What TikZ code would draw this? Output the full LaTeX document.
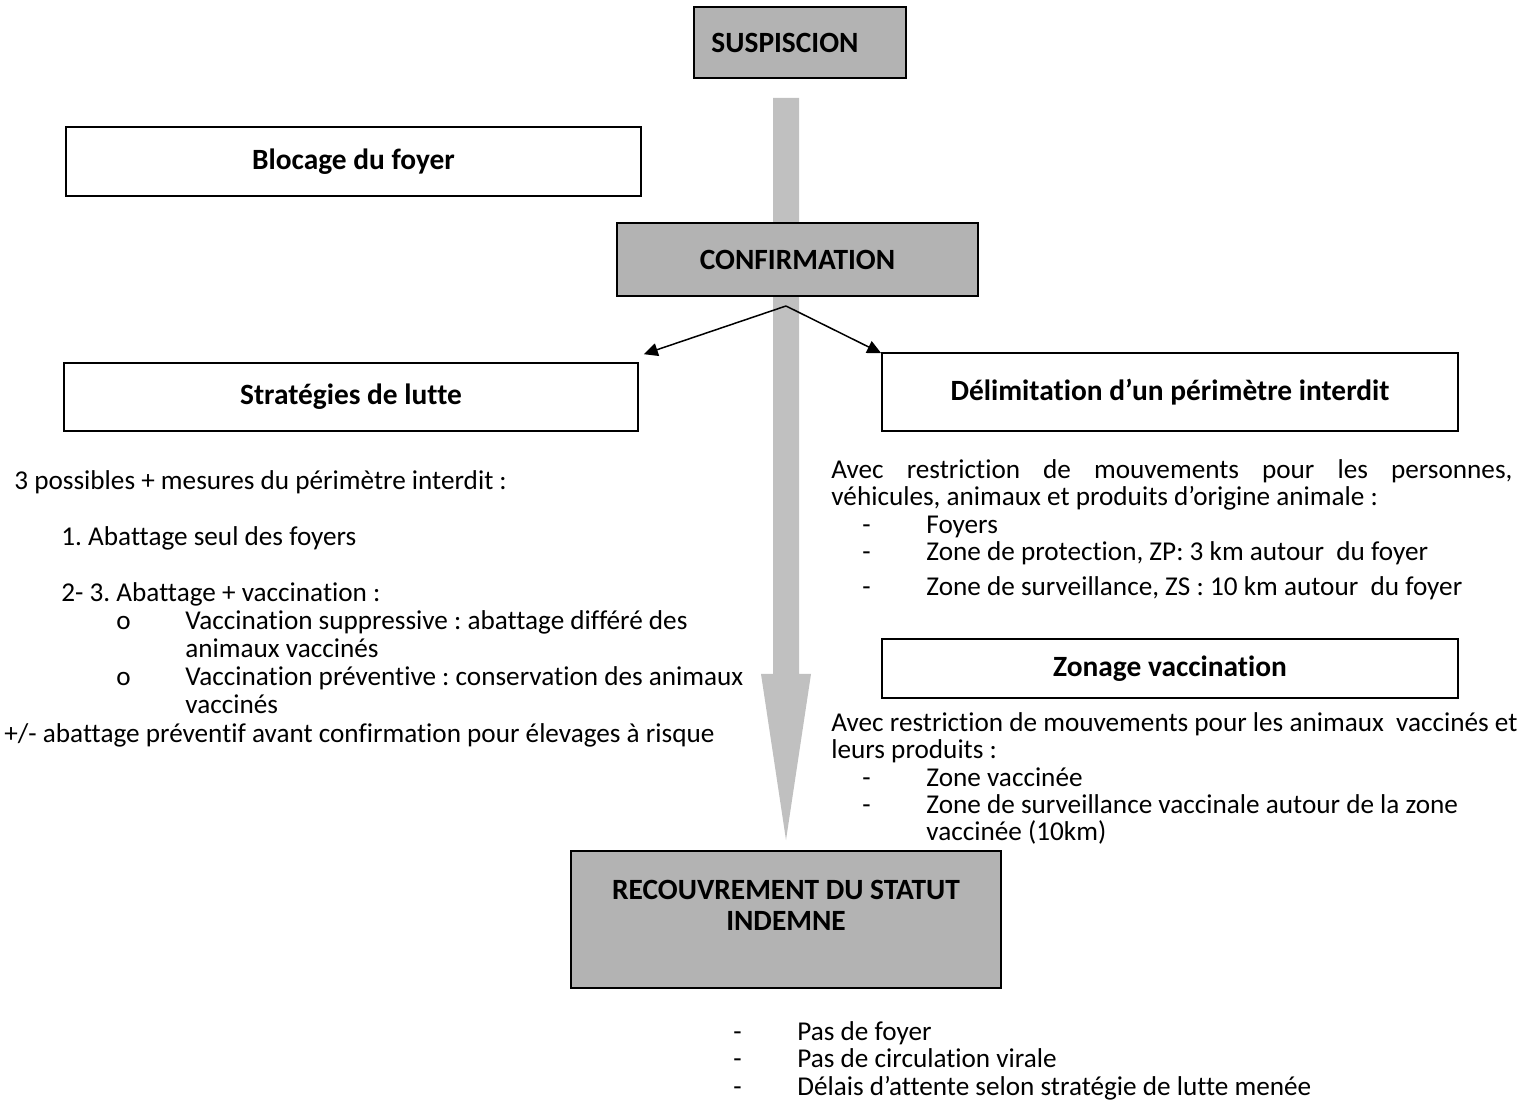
\documentclass[tikz,border=0pt]{standalone}
\usepackage{fontspec}
\setmainfont{Carlito}[Ligatures={NoCommon,NoRare}]
\usetikzlibrary{arrows.meta,calc}
\definecolor{boxgrey}{RGB}{179,179,179}
\definecolor{flowgrey}{RGB}{192,192,192}
\frenchspacing

\begin{document}
\begin{tikzpicture}[x=0.5pt,y=-0.5pt,
  every node/.style={font=\fontsize{13.6pt}{14pt}\selectfont, inner sep=0pt},
  box/.style={draw=black, line width=0.8pt, fill=white,
    font=\fontsize{14.7pt}{15pt}\selectfont\bfseries},
  greybox/.style={box, fill=boxgrey},
  txt/.style={anchor=base west},
  link/.style={line width=0.75pt, -{Triangle[length=7pt,width=6.5pt]}}
]
\useasboundingbox (0,0) rectangle (1517,1117);

% main vertical flow arrow, behind the boxes
\fill[flowgrey] (773,98) -- (799,98) -- (799,674) -- (811,674) -- (786,840)
  -- (761,674) -- (773,674) -- cycle;

% boxes
\node[greybox, minimum width=106pt, minimum height=35.5pt] (susp) at (800,42.5) {SUSPISCION\hspace*{15pt}};
\node[box, minimum width=287.5pt, minimum height=34.5pt] (block) at (353.5,161.5) {Blocage du foyer};
\node[greybox, minimum width=180.5pt, minimum height=36.5pt] (conf) at (797.5,259.5) {CONFIRMATION};
\node[box, minimum width=287pt, minimum height=34pt] (strat) at (351,397) {Stratégies de lutte};
\node[box, minimum width=288pt, minimum height=39pt] (delim) at (1170,392) {Délimitation d’un périmètre interdit};
\node[box, minimum width=288pt, minimum height=29.5pt] (zonage) at (1170,668.5) {Zonage vaccination};
\node[greybox, minimum width=215pt, minimum height=68.5pt] (recouv) at (786,919.5) {};
\node[font=\fontsize{14.7pt}{15.5pt}\selectfont\bfseries, align=center] (recouvtxt) at (786,905)
  {RECOUVREMENT DU STATUT\\INDEMNE};

% branching arrows under CONFIRMATION
\coordinate (split) at (786,306);
\draw[link] (split) -- ($(strat.north east)+(5,-8)$);
\draw[link] (split) -- ($(delim.north west)+(0,1)$);

% control strategies
\node[txt] (s0) at (14,490) {3 possibles + mesures du périmètre interdit :};
\node[txt] (s1) at (61,546) {1. Abattage seul des foyers};
\node[txt] (s2) at (61,602) {2- 3. Abattage + vaccination :};
\node[txt] (s3o) at (116,630) {o};
\node[txt] (s3) at (185,630) {Vaccination suppressive : abattage différé des};
\node[txt] (s3b) at (185,658) {animaux vaccinés};
\node[txt] (s4o) at (116,686) {o};
\node[txt] (s4) at (185,686) {Vaccination préventive : conservation des animaux};
\node[txt] (s4b) at (185,714) {vaccinés};
\node[txt] (s5) at (4,742) {+/- abattage préventif avant confirmation pour élevages à risque};

% restricted perimeter
\node[txt] (d0) at (831,479) {\makebox[340.5pt][s]{Avec restriction de mouvements pour les personnes,}};
\node[txt] (d1) at (831,506) {véhicules, animaux et produits d’origine animale :};
\node[txt] (d2m) at (862,533.5) {-};
\node[txt] (d2) at (926,533.5) {Foyers};
\node[txt] (d3m) at (862,561) {-};
\node[txt] (d3) at (926,561) {Zone de protection, ZP: 3 km autour \ du foyer};
\node[txt] (d4m) at (862,596) {-};
\node[txt] (d4) at (926,596) {Zone de surveillance, ZS : 10 km autour \ du foyer};

% vaccination zoning
\node[txt] (z0) at (831,732) {Avec restriction de mouvements pour les animaux \ vaccinés et};
\node[txt] (z1) at (831,759) {leurs produits :};
\node[txt] (z2m) at (862,786) {-};
\node[txt] (z2) at (926,786) {Zone vaccinée};
\node[txt] (z3m) at (862,813) {-};
\node[txt] (z3) at (926,813) {Zone de surveillance vaccinale autour de la zone};
\node[txt] (z4) at (926,840) {vaccinée (10km)};

% recovery conditions
\node[txt] (r1m) at (733,1040) {-};
\node[txt] (r1) at (797,1040) {Pas de foyer};
\node[txt] (r2m) at (733,1067) {-};
\node[txt] (r2) at (797,1067) {Pas de circulation virale};
\node[txt] (r3m) at (733,1095) {-};
\node[txt] (r3) at (797,1095) {Délais d’attente selon stratégie de lutte menée};
\end{tikzpicture}
\end{document}
